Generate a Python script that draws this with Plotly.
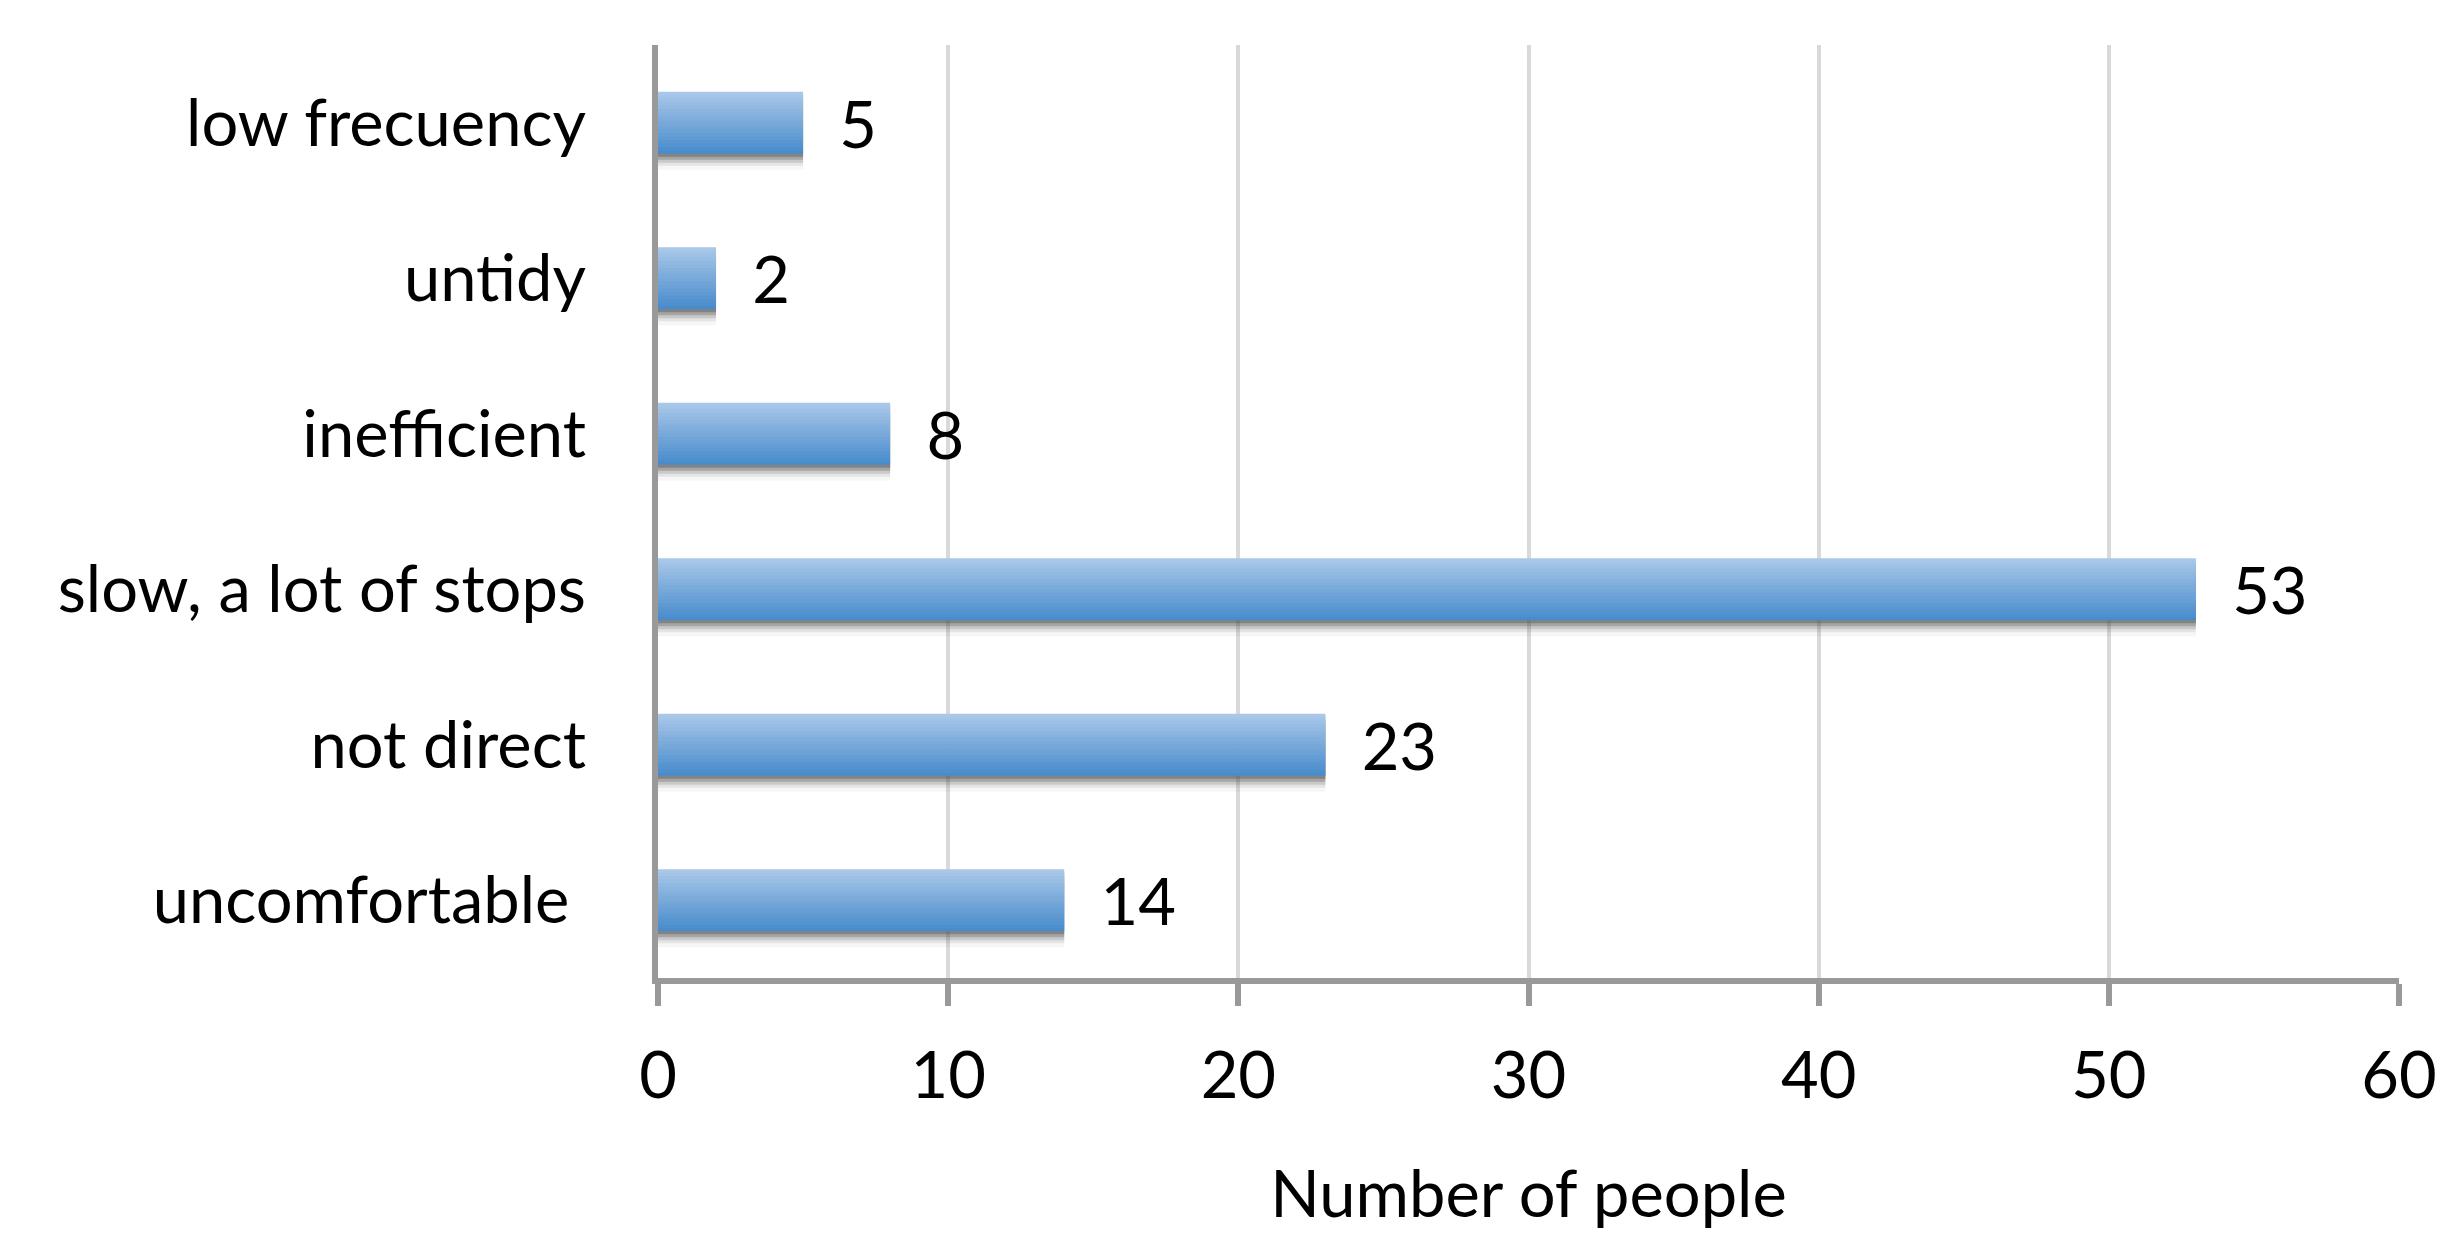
import plotly.graph_objects as go

# 从下到上排列，Plotly 分类轴默认自下而上
categories = ["uncomfortable\u00a0", "not direct", "slow, a lot of stops", "inefficient", "untidy", "low frecuency"]
people = [14, 23, 53, 8, 2, 5]
x_ticks = [0, 10, 20, 30, 40, 50, 60]

FONT = "Lato"
FS = 65
BAR_W = 0.4
N_BANDS = 18
TOP = (169, 199, 233)
BOTTOM = (72, 140, 204)
PX = 1 / 155.5  # 一个像素对应的分类单位

fig = go.Figure()

# 柱子下方的柔和阴影
for shift, alpha in [(3, 0.40), (6, 0.28), (9, 0.18), (12, 0.10), (16, 0.05)]:
    fig.add_trace(go.Bar(
        x=people, y=categories, orientation="h",
        width=BAR_W, offset=-BAR_W / 2 - shift * PX,
        marker=dict(color=f"rgba(80,80,80,{alpha})", line=dict(width=0)),
        hoverinfo="skip", showlegend=False,
    ))

# 用多条窄带模拟从上到下的渐变
step = BAR_W / N_BANDS
for i in range(N_BANDS):
    t = i / (N_BANDS - 1)  # 0 = 底部, 1 = 顶部
    rgb = tuple(round(BOTTOM[j] + (TOP[j] - BOTTOM[j]) * t) for j in range(3))
    fig.add_trace(go.Bar(
        x=people, y=categories, orientation="h",
        width=step * 1.15, offset=-BAR_W / 2 + i * step - (step * 0.15 if i == N_BANDS - 1 else 0),
        marker=dict(color=f"rgb{rgb}", line=dict(width=0)),
        hoverinfo="skip", showlegend=False,
    ))

# 数值标签
fig.add_trace(go.Bar(
    x=people, y=categories, orientation="h", width=BAR_W,
    marker=dict(color="rgba(0,0,0,0)", line=dict(width=0)),
    text=[f"\u00a0\u00a0{v}" for v in people], textposition="outside", constraintext="none",
    textfont=dict(family=FONT, size=FS, color="black"),
    cliponaxis=False, showlegend=False,
))

fig.update_layout(
    width=2461, height=1255,
    barmode="overlay",
    plot_bgcolor="white", paper_bgcolor="white",
    margin=dict(l=650, r=70, t=37, b=285),
    font=dict(family=FONT, size=FS, color="black"),
    showlegend=False,
)
fig.update_xaxes(
    range=[0, 60], tickvals=x_ticks,
    showgrid=True, gridcolor="#d9d9d9", gridwidth=4,
    showline=True, linecolor="#999999", linewidth=6,
    ticks="outside", ticklen=22, tickwidth=6, tickcolor="#999999",
    tickfont=dict(family=FONT, size=FS), ticklabelstandoff=14,
    zeroline=False,
    title=dict(text="Number of people", font=dict(family=FONT, size=FS), standoff=62),
)
fig.update_yaxes(
    categoryorder="array", categoryarray=categories,
    showline=True, linecolor="#999999", linewidth=6,
    showgrid=False, ticks="", ticklabelstandoff=53,
    tickfont=dict(family=FONT, size=FS),
)

fig.write_html("out.html")
